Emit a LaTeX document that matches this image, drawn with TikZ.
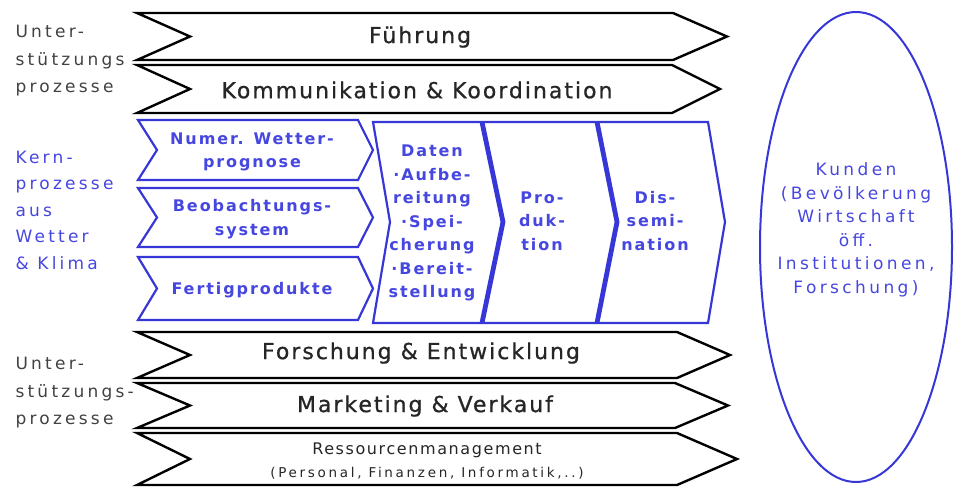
\documentclass[tikz,border=0pt]{standalone}
\usepackage{fontspec}
\setmainfont{DejaVu Sans}[LetterSpace=6]
\newfontfamily\zeilenschrift{DejaVu Sans}[LetterSpace=9, FakeBold=0.8]
\usetikzlibrary{shapes.geometric, positioning}

\definecolor{kernblau}{RGB}{55,55,215}
\definecolor{schriftblau}{RGB}{70,70,225}
\definecolor{schriftgrau}{RGB}{65,65,65}

% black process row: top, bottom, end of flat part, tip
\newcommand{\stuetzpfeil}[4]{%
  \draw[stuetz] (137,#1) -- (#3,#1) -- (#4,{(#1+#2)/2}) -- (#3,#2)
    -- (137,#2) -- (190,{(#1+#2)/2}) -- cycle;}
% small blue process: top, bottom
\newcommand{\kernpfeil}[2]{%
  \draw[kern] (138,#1) -- (358,#1) -- (373,{(#1+#2)/2}) -- (358,#2)
    -- (138,#2) -- (157,{(#1+#2)/2}) -- cycle;}

\begin{document}
\begin{tikzpicture}[x=1pt,y=-1pt]
	\tikzstyle{stuetz}=[draw=black, line width=2.4pt, fill=white]
	\tikzstyle{kern}=[draw=kernblau, line width=2.2pt, fill=white]
	\tikzstyle{trenn}=[draw=kernblau, line width=4.8pt]
	\tikzstyle{zeile}=[font=\zeilenschrift\fontsize{22}{24}\selectfont, text=black!85]
	\tikzstyle{seite}=[anchor=west, align=left,
		font=\fontsize{17}{27.5}\selectfont\addfontfeature{LetterSpace=19}]
	\tikzstyle{kernschrift}=[align=center, text=schriftblau,
		font=\bfseries\fontsize{16}{23.5}\selectfont\addfontfeature{LetterSpace=12}]
	
	\useasboundingbox (0,0) rectangle (954,488);
	
	% Unterstuetzungsprozesse oben
	\stuetzpfeil{13}{60}{673}{727}
	\stuetzpfeil{65}{113}{672}{720}
	\node[zeile] (fue) at (420,37) {Führung};
	\node[zeile] (komm) at (417,90) {Kommunikation \& Koordination};
	
	% Kernprozesse
	\kernpfeil{120}{180}
	\kernpfeil{188}{247}
	\kernpfeil{257}{320}
	\draw[kern] (373,122) -- (708,122) -- (725,222) -- (708,323)
		-- (373,323) -- (390,222) -- cycle;
	\draw[trenn] (482,122) -- (503,222) -- (482,323);
	\draw[trenn] (597,122) -- (617,222) -- (597,323);
	
	\node[kernschrift] (nwp) at (252,152) {Numer. Wetter-\\prognose};
	\node[kernschrift] (beob) at (252,219) {Beobachtungs-\\system};
	\node[kernschrift] (fert) at (252,290) {Fertigprodukte};
	\node[kernschrift] (daten) at (432,223) {Daten\\·Aufbe-\\reitung\\·Spei-\\cherung\\·Bereit-\\stellung};
	\node[kernschrift] (prod) at (542,221) {Pro-\\duk-\\tion};
	\node[kernschrift] (diss) at (655,221) {Dis-\\semi-\\nation};
	
	% Unterstuetzungsprozesse unten
	\stuetzpfeil{332}{378}{677}{730}
	\stuetzpfeil{383}{428}{675}{728}
	\stuetzpfeil{433}{485}{677}{737}
	\node[zeile] (fe) at (421,353) {Forschung \& Entwicklung};
	\node[zeile] (mv) at (425,406) {Marketing \& Verkauf};
	\node[align=center, text=black!85,
		font=\fontsize{16}{23}\selectfont\addfontfeature{LetterSpace=10}] (res) at (427,461)
		{Ressourcenmanagement\\{\fontsize{13.5}{14}\selectfont\addfontfeature{LetterSpace=20}(Personal, Finanzen, Informatik,..)}};
	
	% Seitenbeschriftung
	\node[seite, text=schriftgrau] (unt1) at (12,61) {Unter-\\stützungs\\prozesse};
	\node[seite, text=schriftblau, font=\fontsize{17}{26.5}\selectfont\addfontfeature{LetterSpace=19}]
		(kern) at (12,210) {Kern-\\prozesse\\aus\\Wetter\\\& Klima};
	\node[seite, text=schriftgrau] (unt2) at (12,393) {Unter-\\stützungs-\\prozesse};
	
	% Kunden
	\node[ellipse, draw=kernblau, line width=2pt, minimum width=192pt,
		minimum height=470pt] (kunden) at (856,247) {};
	\node[align=center, text=schriftblau,
		font=\fontsize{17}{23.5}\selectfont\addfontfeature{LetterSpace=20}]
		(kundentext) at ([yshift=17pt]kunden.center)
		{Kunden\\(Bevölkerung\\Wirtschaft\\öff.\\Institutionen,\\Forschung)};
\end{tikzpicture}
\end{document}
